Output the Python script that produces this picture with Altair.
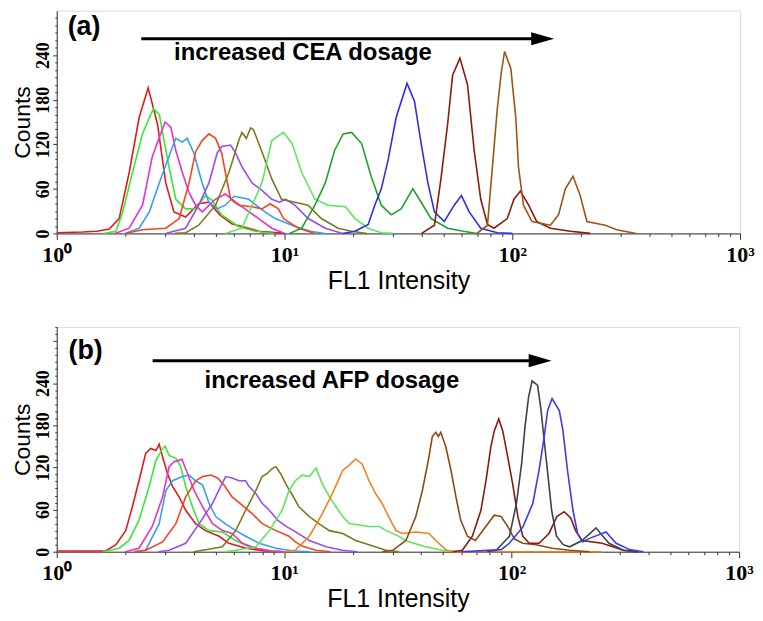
import altair as alt
import pandas as pd

# ---------------- tick values / labels ----------------
X_TICK_VALUES = [1, 2, 3, 4, 5, 6, 7, 8, 9, 10, 20, 30, 40, 50, 60, 70, 80, 90,
                 100, 200, 300, 400, 500, 600, 700, 800, 900, 1000]
X_TICK_LABELS = {1: "10⁰", 10: "10¹", 100: "10²", 1000: "10³"}
Y_TICKS_A = list(range(0, 291, 10))
Y_TICKS_B = list(range(0, 321, 10))
Y_LABELED = [0, 60, 120, 180, 240]
Y_DOMAIN_A = [0, 300]
Y_DOMAIN_B = [0, 320]

# ---------------- panel (a): CEA ----------------
A_RED = [(1.0, 1), (1.3, 2), (1.5, 3), (1.7, 6), (1.88, 20), (2.08, 82), (2.3, 156), (2.52, 196),
         (2.77, 147), (3.01, 68), (3.27, 29), (3.68, 22), (4.2, 40), (4.66, 42), (5.2, 25),
         (5.87, 13), (7.7, 3), (10, 0)]
A_LIME = [(1.6, 0), (1.82, 3), (1.95, 29), (2.15, 82), (2.38, 134), (2.55, 156), (2.66, 168),
          (2.82, 160), (2.96, 125), (3.11, 90), (3.33, 46), (3.68, 33), (4.07, 33), (4.5, 51),
          (4.8, 45), (5.3, 25), (6.3, 9), (7.45, 3), (9, 0)]
A_MAGENTA = [(1.8, 0), (2.08, 7), (2.38, 38), (2.63, 104), (2.86, 134), (2.99, 150), (3.17, 143),
             (3.33, 112), (3.56, 82), (3.81, 55), (4.07, 38), (4.35, 29), (4.98, 46), (5.5, 53),
             (6.1, 42), (6.7, 33), (7.7, 20), (8.8, 7), (10, 0)]
A_SKY = [(2.0, 0), (2.3, 7), (2.55, 29), (2.82, 68), (3.11, 104), (3.33, 128), (3.56, 123),
         (3.74, 128), (4.0, 108), (4.35, 68), (4.65, 42), (5.06, 33), (5.5, 38), (6.0, 50),
         (6.96, 46), (8.2, 29), (9.1, 20), (11, 10), (13, 3), (15, 0)]
A_ORANGERED = [(2.0, 0), (2.38, 5), (3.01, 7), (3.45, 20), (3.81, 68), (4.07, 110), (4.35, 125),
               (4.66, 134), (4.98, 128), (5.3, 108), (5.5, 82), (5.8, 46), (6.3, 38), (7.2, 36),
               (7.96, 33), (8.65, 40), (9.4, 33), (9.9, 20), (11.5, 7), (13.6, 0)]
A_PURPLE = [(3.0, 0), (3.68, 7), (4.2, 38), (4.66, 68), (5.06, 108), (5.3, 117), (5.8, 119),
            (6.1, 108), (6.5, 90), (7.2, 68), (7.96, 58), (8.8, 46), (9.5, 42), (10.1, 46),
            (11.1, 38), (12.7, 20), (15.1, 7), (18, 0)]
A_OLIVE = [(3.3, 0), (3.68, 1), (4.2, 11), (4.98, 38), (5.7, 82), (6.3, 125), (6.5, 136),
           (6.8, 128), (7.1, 142), (7.3, 140), (7.96, 110), (8.8, 73), (9.4, 55), (9.7, 46),
           (11.1, 42), (12.7, 38), (14.5, 20), (17.2, 7), (19.7, 3), (23, 0)]
A_LIGHTGREEN = [(5.5, 0), (6.5, 7), (7.96, 68), (8.8, 125), (9.9, 136), (10.8, 121), (11.9, 82),
                (13.6, 46), (15.5, 38), (18.5, 36), (20.4, 20), (23.3, 7), (26.6, 1), (30, 0)]
A_GREEN = [(10.5, 0), (11.9, 7), (13.6, 38), (15.1, 68), (16.6, 112), (18.1, 134), (19.7, 136),
           (21.8, 121), (24.0, 77), (26.6, 38), (29.4, 25), (32.5, 33), (36.6, 60), (39.8, 42),
           (44, 20), (52, 7), (61, 3), (70, 0)]
A_BLUE = [(18, 0), (20.4, 3), (23.3, 12), (24.9, 38), (26.6, 60), (28.5, 99), (30.9, 156),
          (34.5, 202), (37.2, 178), (39.8, 121), (42.6, 68), (45.5, 29), (50.3, 16), (55.6, 38),
          (59.8, 51), (64.7, 29), (72.7, 7), (86, 1), (100, 0)]
A_DARKRED = [(40, 0), (45.5, 11), (48.6, 73), (52.0, 147), (54.7, 213), (58.9, 236), (63.6, 200),
             (68, 112), (72.7, 46), (77.8, 12), (83.1, 7), (95, 20), (101.7, 46), (108.5, 57),
             (118, 38), (128, 16), (147, 7), (180, 3), (220, 0)]
A_BROWN = [(70, 0), (77.8, 11), (81.8, 90), (86, 169), (89.5, 217), (92.5, 245), (98.5, 222),
           (103.6, 156), (106.4, 90), (112, 38), (122, 16), (147, 11), (159.5, 25), (171, 60),
           (184.7, 77), (198.6, 51), (212.6, 16), (256, 11), (287, 5), (350, 0)]

# ---------------- panel (b): AFP ----------------
B_RED = [(1.0, 1), (1.4, 1), (1.64, 1), (1.82, 10), (2.01, 30), (2.15, 64), (2.30, 101), (2.46, 140),
         (2.59, 147), (2.73, 144), (2.82, 153), (2.92, 135), (3.07, 111), (3.23, 93), (3.45, 78),
         (3.69, 59), (4.08, 40), (4.51, 30), (5.17, 22), (5.72, 12), (6.8, 5), (8.2, 1), (10, 0)]
B_LIME = [(1.6, 0), (1.88, 5), (2.08, 16), (2.30, 45), (2.55, 93), (2.73, 130), (2.92, 147),
          (3.0, 150), (3.12, 137), (3.34, 133), (3.51, 121), (3.69, 93), (3.95, 64), (4.23, 40),
          (4.67, 30), (5.35, 28), (6.12, 16), (7.0, 7), (8.8, 1), (10, 0)]
B_MAGENTA = [(2.0, 0), (2.30, 5), (2.63, 36), (2.92, 78), (3.12, 121), (3.28, 128), (3.45, 130),
             (3.55, 132), (3.76, 111), (4.02, 87), (4.38, 64), (4.84, 40), (5.35, 30), (5.9, 26),
             (6.55, 12), (7.5, 5), (8.8, 1), (10, 0)]
B_SKY = [(2.2, 0), (2.46, 2), (2.82, 40), (3.02, 87), (3.23, 101), (3.57, 107), (3.82, 109),
         (4.08, 101), (4.38, 95), (4.67, 69), (5.0, 50), (5.5, 40), (6.12, 30), (6.77, 22),
         (7.75, 12), (9.2, 5), (11, 1), (13, 0)]
B_ORANGERED = [(2.2, 0), (2.46, 2), (2.92, 14), (3.34, 40), (3.69, 78), (4.08, 101), (4.38, 107),
               (4.76, 109), (5.09, 105), (5.44, 95), (5.9, 78), (6.55, 66), (7.25, 54), (8.0, 40),
               (9.2, 30), (10.5, 22), (11.2, 14), (12, 8), (13.8, 2), (16, 0)]
B_PURPLE = [(2.8, 0), (3.12, 2), (3.69, 12), (4.23, 40), (4.84, 69), (5.26, 93), (5.53, 107),
            (5.9, 105), (6.33, 101), (6.77, 101), (7.0, 93), (7.5, 83), (8.0, 69), (8.6, 59),
            (9.35, 45), (10.2, 36), (11.0, 30), (12.9, 16), (15.3, 7), (18, 2), (21, 0)]
B_OLIVE = [(4.0, 0), (4.38, 2), (5.35, 7), (6.12, 30), (6.77, 59), (7.5, 87), (8.0, 107),
           (8.4, 111), (8.9, 119), (9.2, 121), (9.65, 111), (10.3, 93), (10.9, 80), (11.6, 64),
           (12.9, 50), (14.2, 40), (15.8, 30), (18.1, 26), (20.6, 16), (23.6, 10), (28, 2), (32, 0)]
B_LIGHTGREEN = [(5.5, 0), (6.12, 2), (7.5, 7), (8.6, 30), (9.8, 59), (10.5, 87), (11.2, 101),
                (12.0, 109), (12.9, 107), (13.8, 119), (14.7, 97), (15.8, 78), (16.9, 64),
                (18.1, 50), (19.3, 40), (21.3, 38), (23.6, 36), (26.2, 36), (28, 30), (31, 24),
                (35.4, 14), (41.8, 7), (49.6, 2), (56, 0)]
B_ORANGE = [(10, 0), (11.2, 2), (12.9, 22), (14.7, 54), (16.3, 83), (18.1, 116), (19.3, 123),
            (20.6, 132), (22.0, 125), (23.6, 101), (25.2, 83), (26.9, 69), (28.8, 50), (31, 30),
            (33, 26), (37.9, 28), (43.3, 26), (46.4, 16), (51.8, 2), (57, 0), (250, 0)]
B_BROWN = [(27, 0), (30, 2), (34.3, 16), (37.9, 50), (40.5, 87), (43.3, 135), (44.8, 164),
           (46.4, 170), (47.6, 164), (48.8, 170), (51.4, 149), (54.1, 116), (56.9, 78), (59.7, 45),
           (63.9, 22), (69.3, 16), (77, 36), (83.9, 52), (89.8, 50), (96.1, 36), (103, 18),
           (112, 12), (128, 10), (151, 5), (180, 2), (220, 0)]
B_DARKRED = [(55, 0), (60.7, 2), (67.2, 22), (73.3, 59), (77.1, 101), (81.0, 149), (83.9, 172),
             (87.8, 189), (91.4, 172), (96.1, 135), (101, 97), (106.5, 50), (112, 22), (119.5, 12),
             (132, 12), (146, 26), (158, 50), (170, 57), (182, 48), (191, 30), (204, 16),
             (250, 12), (310, 2), (360, 0)]
B_DARKGRAY = [(78, 0), (85.5, 2), (97.8, 22), (105, 69), (110.6, 125), (114.5, 178), (118.7, 220),
              (123, 243), (130, 237), (134.6, 202), (139.5, 154), (144.6, 107), (149.9, 59),
              (157.5, 22), (168.6, 10), (180, 7), (204, 16), (235, 34), (246, 26), (268, 12),
              (310, 2), (350, 0)]
B_BLUE = [(60, 0), (90, 3), (97.7, 12), (112, 35), (124, 69), (132, 116), (139, 163), (144, 201),
          (150.6, 218), (162, 201), (168, 173), (176, 116), (186, 59), (195, 26), (205, 14),
          (220, 19), (260, 28), (288, 12), (330, 3), (380, 0)]

PANEL_A = [("a01", "#e01a1c", A_RED), ("a02", "#38e838", A_LIME), ("a03", "#e632c8", A_MAGENTA),
           ("a04", "#3a9cf0", A_SKY), ("a05", "#f0461e", A_ORANGERED), ("a06", "#9a4cf2", A_PURPLE),
           ("a07", "#7a7a1c", A_OLIVE), ("a08", "#5ae85a", A_LIGHTGREEN), ("a09", "#22a02a", A_GREEN),
           ("a10", "#2f2fe0", A_BLUE), ("a11", "#8a1a0e", A_DARKRED), ("a12", "#9c5516", A_BROWN)]
PANEL_B = [("b01", "#e01a1c", B_RED), ("b02", "#38e838", B_LIME), ("b03", "#e632c8", B_MAGENTA),
           ("b04", "#3a9cf0", B_SKY), ("b05", "#f0461e", B_ORANGERED), ("b06", "#9a4cf2", B_PURPLE),
           ("b07", "#7a7a1c", B_OLIVE), ("b08", "#5ae85a", B_LIGHTGREEN), ("b09", "#f5801e", B_ORANGE),
           ("b10", "#8c4a12", B_BROWN), ("b11", "#8a1a0e", B_DARKRED), ("b12", "#3a4448", B_DARKGRAY),
           ("b13", "#3a3aee", B_BLUE)]
ALL_NAMES = [c[0] for c in PANEL_A + PANEL_B]
ALL_COLORS = [c[1] for c in PANEL_A + PANEL_B]

# annotations (data units): arrow start x, arrow head x, y
ARROW_A = (2.35, 135.9, 262)
ARROW_B = (2.64, 133.4, 272)
TAG_A = ("(a)", 1.117, 278)
TAG_B = ("(b)", 1.126, 286)
NOTE_A = ("increased CEA dosage", 12.05, 243)
NOTE_B = ("increased AFP dosage", 16.2, 243)

SANS = "Liberation Sans"
SERIF = "Liberation Serif"
HEAD = "M -1 -0.57 L 1 0 L -1 0.57 Z"


def x_label_expr():
    parts = [f"datum.value == {k} ? '{v}'" for k, v in X_TICK_LABELS.items()]
    return " : ".join(parts) + " : ''"


def panel(curves, ydom, yticks, arrow, tag, note, width, height):
    rows = []
    for name, _, pts in curves:
        for i, (xv, yv) in enumerate(pts):
            rows.append({"series": name, "x": xv, "y": yv, "ord": i})
    df = pd.DataFrame(rows)

    xs = alt.Scale(type="log", domain=[1, 1000], nice=False)
    ys = alt.Scale(domain=ydom, nice=False, zero=True)
    xaxis = alt.Axis(
        values=X_TICK_VALUES, labelExpr=x_label_expr(), grid=False, labelOverlap=False,
        title="FL1 Intensity", titleFont=SANS, titleFontSize=25, titleFontWeight="normal",
        titleColor="black", titlePadding=3,
        labelFont=SERIF, labelFontWeight="bold", labelFontSize=22, labelColor="black",
        labelPadding=5, labelFlush=False,
        tickSize={"condition": {"test": "indexof([1,10,100,1000], datum.value) >= 0", "value": 6}, "value": 3},
        tickColor="#333", domainColor="#333")
    ylabel_test = " || ".join(f"datum.value == {v}" for v in Y_LABELED)
    yaxis = alt.Axis(
        values=yticks, labelExpr=f"({ylabel_test}) ? datum.label : ''", grid=False,
        labelOverlap=False, labelAngle=270, labelAlign="center", labelBaseline="bottom",
        title="Counts", titleFont=SANS, titleFontSize=23, titleFontWeight="normal",
        titleColor="black", titlePadding=0,
        labelFont=SERIF, labelFontWeight="bold", labelFontSize=18, labelColor="black",
        labelPadding=0,
        tickSize={"condition": {"test": "datum.value % 60 == 0", "value": 4}, "value": 2},
        tickColor="#333", domainColor="#333")

    X = alt.X("x:Q", scale=xs, axis=xaxis)
    Y = alt.Y("y:Q", scale=ys, axis=yaxis)

    lines = alt.Chart(df).mark_line(strokeWidth=1.6, interpolate="linear").encode(
        x=X, y=Y,
        color=alt.Color("series:N", scale=alt.Scale(domain=ALL_NAMES, range=ALL_COLORS), legend=None),
        order=alt.Order("ord:Q"))

    rule = alt.Chart(pd.DataFrame({"x": [arrow[0]], "x2": [arrow[1]], "y": [arrow[2]]})).mark_rule(
        strokeWidth=3, color="black").encode(x=X, x2=alt.X2("x2:Q"), y=Y)
    head = alt.Chart(pd.DataFrame({"x": [arrow[1]], "y": [arrow[2]]})).mark_point(
        shape=HEAD, filled=True, size=529, color="black", opacity=1).encode(x=X, y=Y)
    tagc = alt.Chart(pd.DataFrame({"x": [tag[1]], "y": [tag[2]], "t": [tag[0]]})).mark_text(
        font=SANS, fontWeight="bold", fontSize=27, align="left", baseline="middle",
        color="black").encode(x=X, y=Y, text="t:N")
    notec = alt.Chart(pd.DataFrame({"x": [note[1]], "y": [note[2]], "t": [note[0]]})).mark_text(
        font=SANS, fontWeight="bold", fontSize=24, align="center", baseline="middle",
        color="black").encode(x=X, y=Y, text="t:N")

    return alt.layer(lines, rule, head, tagc, notec).properties(width=width, height=height)


top = panel(PANEL_A, Y_DOMAIN_A, Y_TICKS_A, ARROW_A, TAG_A, NOTE_A, 687, 224)
bottom = panel(PANEL_B, Y_DOMAIN_B, Y_TICKS_B, ARROW_B, TAG_B, NOTE_B, 686, 226)

chart = alt.vconcat(top, bottom, spacing=94, bounds="flush").properties(
    padding={"left": 3, "top": 0, "right": 0, "bottom": 0}
).configure_view(stroke="#555", strokeWidth=1).configure(background="white")

chart.save("out.html", embed_options={"renderer": "svg", "actions": False})
